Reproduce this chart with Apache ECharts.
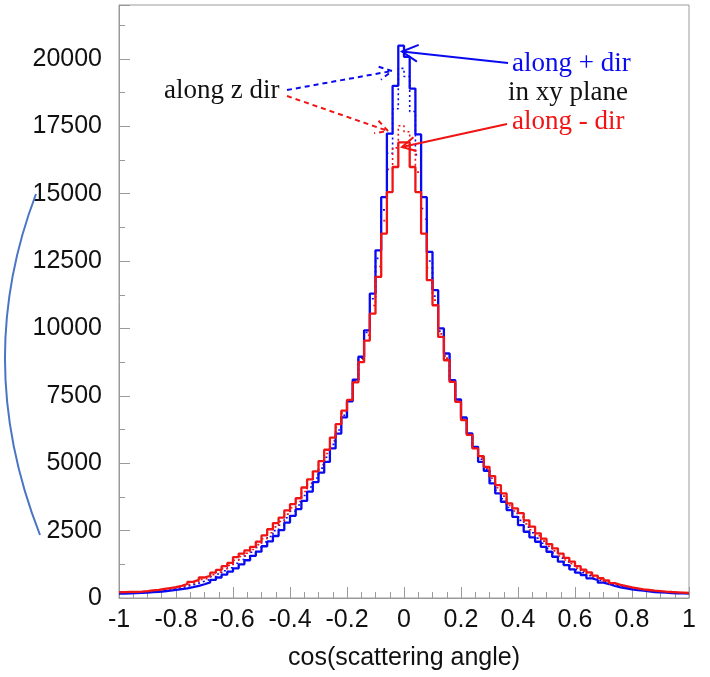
<!DOCTYPE html>
<html><head><meta charset="utf-8">
<script src="https://cdn.jsdelivr.net/npm/echarts@6/dist/echarts.min.js"></script>
<style>html,body{margin:0;padding:0;background:#fff}#c{width:710px;height:677px}</style>
</head><body><div id="c"></div>
<script>
// Histogram binning: 100 bins on [-1, 1]
const binStart = -1;
const binWidth = 0.02;

// along + dir (in xy plane), blue solid
const alongPlus = [
  165,175,180,190,200,215,230,250,270,300,
  330,360,400,450,510,580,670,760,870,980,
  1100,1250,1400,1560,1720,1920,2100,2300,2520,2800,
  3050,3300,3600,3950,4300,4650,5050,5550,6100,6700,
  7300,8100,8950,9930,11290,12900,14870,17230,19000,20490,
  20080,18900,17200,14870,12840,11420,10000,9070,8080,7364,
  6697,6104,5608,5052,4718,4250,3880,3570,3262,3013,
  2706,2457,2250,2087,1900,1716,1530,1346,1223,1063,
  939,852,729,667,568,519,445,395,358,321,
  297,272,247,222,210,198,185,173,173,160
];
// along - dir (in xy plane), red solid
const alongMinus = [
  215,225,228,240,255,280,300,340,370,400,
  450,520,600,670,760,820,940,1040,1180,1300,
  1520,1650,1770,1900,2090,2320,2550,2780,2980,3250,
  3480,3700,4100,4400,4700,5080,5500,5950,6450,6950,
  7350,8000,8750,9550,10550,11910,13520,15060,15990,16900,
  16900,15990,15060,13520,11790,10860,9685,8821,8017,7276,
  6600,6050,5550,5263,4867,4522,4188,3880,3510,3325,
  3150,2880,2650,2400,2200,2000,1842,1650,1490,1350,
  1180,1050,950,830,740,650,550,490,445,395,
  358,321,297,272,255,235,222,210,198,185
];
// along z dir, + direction, blue dotted
const alongZPlus = [
  188,198,202,212,225,245,262,290,315,345,
  385,430,490,550,620,690,790,890,1010,1120,
  1290,1430,1560,1700,1880,2080,2280,2500,2700,2980,
  3220,3450,3800,4120,4450,4820,5220,5700,6230,6780,
  7330,8080,8900,9850,11100,12600,14400,16500,18150,19650,
  19350,18050,16450,14450,12500,11200,9900,8980,8060,7330,
  6650,6080,5580,5150,4780,4360,4000,3680,3360,3140,
  2880,2630,2420,2220,2030,1840,1670,1480,1340,1190,
  1050,940,830,740,650,580,500,440,400,360,
  325,295,270,245,230,215,202,190,185,172
];
// along z dir, - direction, red dotted
const alongZMinus = [
  200,210,215,226,240,262,280,315,340,370,
  415,475,545,610,690,750,860,960,1090,1210,
  1400,1540,1660,1800,1980,2200,2420,2640,2840,3110,
  3350,3580,3950,4260,4580,4950,5360,5830,6330,6860,
  7340,8040,8850,9750,10850,12300,14000,15900,16700,17520,
  17300,16600,15800,14050,12250,11050,9800,8900,8040,7300,
  6620,6060,5560,5200,4820,4440,4090,3780,3430,3230,
  3010,2750,2530,2310,2110,1920,1750,1560,1410,1270,
  1110,995,890,785,695,615,525,465,420,378,
  340,308,283,258,242,225,212,200,192,178
];
const xTickLabels = ['-1','-0.8','-0.6','-0.4','-0.2','0','0.2','0.4','0.6','0.8','1'];
const yTickLabels = ['0','2500','5000','7500','10000','12500','15000','17500','20000'];

function toSteps(vals) {
  const pts = vals.map((v, i) => [+(binStart + i * binWidth).toFixed(4), v]);
  pts.push([+(binStart + vals.length * binWidth).toFixed(4), vals[vals.length - 1]]);
  return pts;
}

const BLUE = '#0a0af0', RED = '#f01414';
const sansFont = '"Liberation Sans", Arial, sans-serif';
const serif = '27px "Liberation Serif", "Times New Roman", serif';

function arrowHead(tx, ty, sx, sy, len, angDeg) {
  const a = Math.atan2(sy - ty, sx - tx), d = angDeg * Math.PI / 180;
  return [[tx + len * Math.cos(a + d), ty + len * Math.sin(a + d)], [tx, ty],
          [tx + len * Math.cos(a - d), ty + len * Math.sin(a - d)]];
}
function arrow(sx, sy, tx, ty, color, dash, len) {
  const st = { stroke: color, lineWidth: 2, fill: null };
  if (dash) st.lineDash = [5, 4];
  return [
    { type: 'polyline', silent: true, z: 100, shape: { points: [[sx, sy], [tx, ty]] }, style: Object.assign({}, st) },
    { type: 'polyline', silent: true, z: 100, shape: { points: arrowHead(tx, ty, sx, sy, len, 28) }, style: Object.assign({}, st) }
  ];
}
function label(x, y, text, color) {
  return { type: 'text', x: x, y: y, z: 100, silent: true,
    style: { text: text, font: serif, fill: color, textVerticalAlign: 'middle', textAlign: 'left' } };
}

const chart = echarts.init(document.getElementById('c'), null, { renderer: 'canvas' });
const mkSeries = (name, vals, color, dotted, w) => ({
  name: name, type: 'line', step: 'end', data: toSteps(vals), symbol: 'none',
  lineStyle: { color: color, width: w, type: dotted ? [2, 3] : 'solid' },
  silent: true, animation: false, clip: true
});

chart.setOption({
  animation: false,
  grid: { left: 119, right: 21, top: 5, bottom: 79, show: true, borderColor: '#9a9a9a', borderWidth: 1 },
  xAxis: {
    type: 'value', min: -1, max: 1, interval: 0.2,
    name: 'cos(scattering angle)', nameLocation: 'middle', nameGap: 48,
    nameTextStyle: { fontFamily: sansFont, fontSize: 25, color: '#111' },
    axisLine: { onZero: false, lineStyle: { color: '#9a9a9a', width: 1 } },
    axisTick: { inside: true, length: 11, lineStyle: { color: '#9a9a9a' } },
    minorTick: { show: true, splitNumber: 4, length: 6, lineStyle: { color: '#9a9a9a' } },
    splitLine: { show: false },
    axisLabel: { fontFamily: sansFont, fontSize: 25, color: '#111', margin: 10,
      formatter: v => xTickLabels[Math.round((v + 1) / 0.2)] }
  },
  yAxis: {
    type: 'value', min: 0, max: 22000, interval: 2500,
    axisLine: { show: true, onZero: false, lineStyle: { color: '#9a9a9a', width: 1 } },
    axisTick: { inside: true, length: 11, lineStyle: { color: '#9a9a9a' } },
    minorTick: { show: true, splitNumber: 2, length: 6, lineStyle: { color: '#9a9a9a' } },
    splitLine: { show: false },
    axisLabel: { fontFamily: sansFont, fontSize: 25, color: '#111', margin: 17,
      formatter: v => { const k = Math.round(v / 2500); return (v <= 20000 && k < yTickLabels.length) ? yTickLabels[k] : ''; } }
  },
  series: [
    mkSeries('along z dir (+)', alongZPlus, BLUE, true, 1.6),
    mkSeries('along z dir (-)', alongZMinus, RED, true, 1.6),
    mkSeries('along + dir', alongPlus, BLUE, false, 2.3),
    mkSeries('along - dir', alongMinus, RED, false, 2.3)
  ],
  graphic: [].concat(
    arrow(508, 63, 402, 51.5, BLUE, false, 18),
    arrow(507, 124, 402, 147, RED, false, 15),
    arrow(287, 90, 392, 71, BLUE, true, 14),
    arrow(287, 96, 388, 131, RED, true, 14),
    [
      label(164, 91, 'along z dir', '#111'),
      label(512, 64, 'along + dir', BLUE),
      label(508, 93, 'in xy plane', '#111'),
      label(512, 122, 'along - dir', RED),
      { type: 'bezierCurve', silent: true, z: 100,
        shape: { x1: 36, y1: 194, cpx1: -28, cpy1: 362, x2: 40, y2: 535 },
        style: { stroke: '#4a74c4', lineWidth: 2, fill: null } }
    ]
  )
});
</script>
</body></html>
